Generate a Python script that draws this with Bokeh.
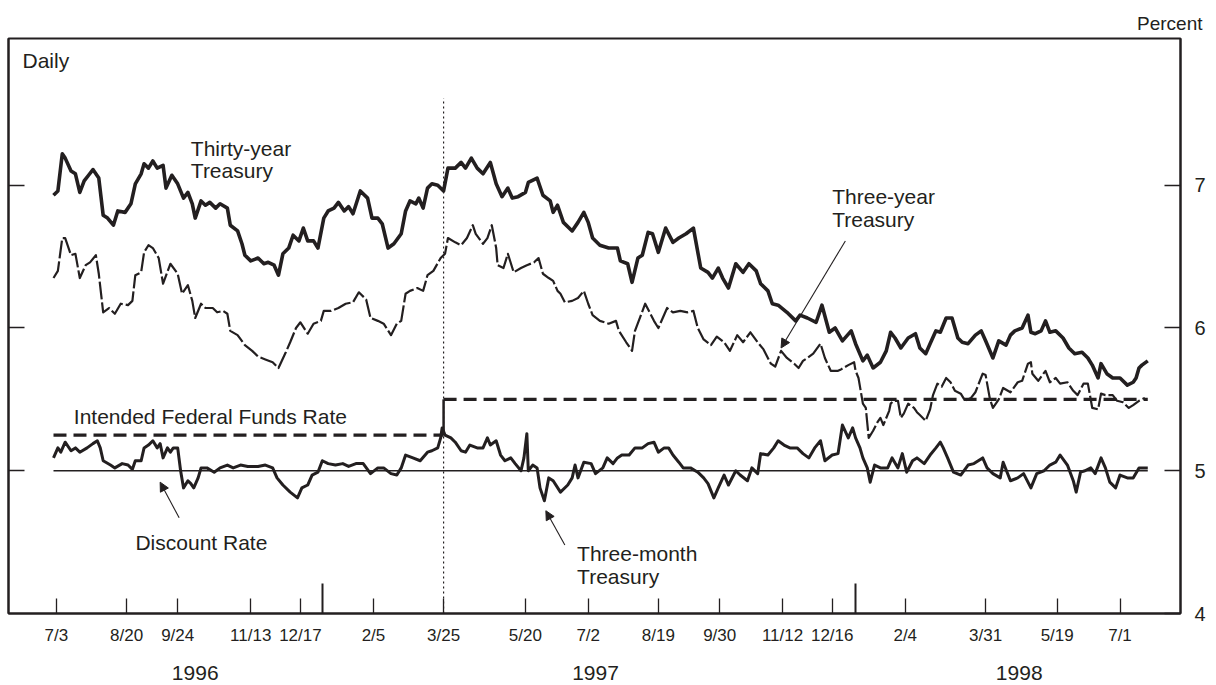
from datetime import date
from bokeh.plotting import figure
from bokeh.models import Range1d, LinearAxis, FixedTicker, Label, Arrow, NormalHead, Title
from bokeh.embed import file_html
from bokeh.resources import INLINE

# ---------------- data (x = days since 1 July 1996) ----------------
ORIGIN = date(1996, 7, 1)

def day(s):
    y, m, d = map(int, s.split("-"))
    return (date(y, m, d) - ORIGIN).days

tick_dates = ["1996-07-03", "1996-08-20", "1996-09-24", "1996-11-13", "1996-12-17",
              "1997-02-05", "1997-03-25", "1997-05-20", "1997-07-02", "1997-08-19",
              "1997-09-30", "1997-11-12", "1997-12-16", "1998-02-04", "1998-03-31",
              "1998-05-19", "1998-07-01"]
tick_labels = ["7/3", "8/20", "9/24", "11/13", "12/17", "2/5", "3/25", "5/20", "7/2",
               "8/19", "9/30", "11/12", "12/16", "2/4", "3/31", "5/19", "7/1"]
year_starts = ["1997-01-01", "1998-01-01"]
year_labels = ["1996", "1997", "1998"]
year_label_dates = ["1996-10-06", "1997-07-07", "1998-04-23"]

y_ticks = [4, 5, 6, 7]

# Thirty-year Treasury
t30_day = [0, 3, 6, 8, 12, 15, 18, 21, 24, 27, 31, 34, 37, 41, 44, 49, 53, 56, 60, 62,
           65, 68, 71, 75, 77, 81, 85, 89, 92, 95, 97, 101, 104, 107, 111, 114, 119, 121, 126, 129,
           131, 135, 140, 144, 147, 151, 154, 157, 161, 164, 168, 171, 174, 178, 181, 185, 188, 192, 195, 199,
           202, 205, 210, 215, 218, 222, 225, 229, 233, 238, 241, 244, 248, 250, 253, 256, 259, 263, 267, 270,
           275, 279, 282, 286, 290, 294, 299, 303, 307, 311, 314, 318, 323, 325, 331, 335, 340, 342, 345, 349,
           355, 359, 363, 366, 369, 374, 380, 386, 388, 393, 396, 400, 403, 407, 410, 414, 419, 424, 428, 433,
           438, 443, 448, 451, 455, 458, 462, 467, 472, 476, 481, 484, 489, 492, 496, 502, 508, 511, 516, 522,
           526, 531, 535, 540, 546, 549, 554, 557, 561, 566, 570, 573, 576, 580, 585, 590, 593, 597, 600, 604,
           607, 611, 615, 619, 622, 626, 631, 635, 638, 643, 647, 652, 655, 658, 663, 667, 669, 672, 676, 679,
           682, 686, 691, 695, 699, 704, 708, 711, 715, 717, 721, 725, 730, 735, 739, 741, 743, 745, 749]
t30_val = [6.93, 6.96, 7.22, 7.19, 7.10, 7.08, 6.95, 7.03, 7.07, 7.11, 7.05, 6.79, 6.77, 6.72, 6.82, 6.81, 6.87, 7.01, 7.08, 7.15,
           7.12, 7.17, 7.12, 7.14, 6.98, 7.07, 7.01, 6.91, 6.95, 6.87, 6.77, 6.89, 6.86, 6.88, 6.84, 6.87, 6.84, 6.72, 6.68, 6.59,
           6.51, 6.47, 6.49, 6.45, 6.46, 6.44, 6.37, 6.52, 6.56, 6.65, 6.61, 6.70, 6.61, 6.61, 6.56, 6.77, 6.82, 6.84, 6.88, 6.82,
           6.85, 6.80, 6.96, 6.91, 6.77, 6.77, 6.73, 6.56, 6.59, 6.66, 6.82, 6.89, 6.87, 6.91, 6.84, 6.98, 7.01, 7.00, 6.96, 7.12,
           7.12, 7.16, 7.12, 7.19, 7.12, 7.08, 7.16, 7.01, 6.92, 6.98, 6.91, 6.92, 6.95, 7.02, 7.05, 6.93, 6.89, 6.81, 6.86, 6.74,
           6.68, 6.74, 6.81, 6.74, 6.63, 6.58, 6.56, 6.56, 6.47, 6.45, 6.32, 6.49, 6.51, 6.67, 6.66, 6.53, 6.70, 6.60, 6.63, 6.66,
           6.70, 6.42, 6.39, 6.35, 6.42, 6.35, 6.28, 6.45, 6.39, 6.45, 6.40, 6.31, 6.26, 6.17, 6.16, 6.11, 6.05, 6.09, 6.07, 6.04,
           6.16, 5.97, 6.00, 5.91, 5.98, 5.89, 5.77, 5.81, 5.72, 5.76, 5.84, 5.97, 5.93, 5.86, 5.93, 5.96, 5.86, 5.82, 5.89, 5.98,
           5.97, 6.07, 6.07, 5.93, 5.90, 5.89, 5.95, 5.98, 5.91, 5.79, 5.91, 5.88, 5.95, 5.98, 6.00, 6.09, 5.97, 5.96, 5.98, 6.05,
           5.97, 5.98, 5.93, 5.86, 5.82, 5.83, 5.79, 5.74, 5.65, 5.75, 5.68, 5.65, 5.65, 5.60, 5.62, 5.65, 5.72, 5.74, 5.77]

# Three-year Treasury
t3y_day = [0, 3, 6, 8, 12, 15, 18, 22, 25, 29, 31, 34, 38, 42, 46, 51, 54, 56, 60, 62,
           65, 68, 72, 75, 80, 85, 88, 92, 95, 97, 101, 104, 109, 112, 116, 119, 121, 126, 131, 136,
           140, 145, 150, 154, 159, 162, 166, 169, 174, 178, 183, 185, 190, 195, 200, 205, 209, 214, 217, 222,
           226, 231, 235, 238, 241, 244, 249, 253, 256, 260, 265, 268, 270, 275, 279, 283, 287, 289, 294, 297,
           300, 303, 304, 308, 311, 315, 320, 324, 329, 332, 335, 339, 342, 345, 347, 350, 355, 359, 363, 366,
           369, 374, 380, 385, 387, 392, 396, 398, 405, 411, 414, 420, 424, 429, 434, 438, 441, 445, 450, 454,
           459, 463, 468, 472, 477, 482, 486, 491, 494, 498, 502, 507, 510, 513, 516, 520, 525, 528, 532, 537,
           539, 544, 548, 549, 551, 554, 556, 558, 561, 564, 566, 568, 572, 573, 575, 578, 580, 582, 585, 589,
           591, 593, 597, 600, 602, 605, 608, 611, 614, 617, 621, 624, 628, 631, 636, 638, 641, 643, 647, 650,
           655, 660, 663, 667, 669, 670, 674, 679, 682, 686, 689, 694, 698, 701, 705, 708, 711, 715, 717, 720,
           725, 728, 732, 736, 739, 743, 747]
t3y_val = [6.35, 6.40, 6.63, 6.63, 6.51, 6.52, 6.35, 6.44, 6.46, 6.51, 6.38, 6.11, 6.14, 6.10, 6.17, 6.16, 6.19, 6.37, 6.39, 6.53,
           6.58, 6.56, 6.49, 6.31, 6.45, 6.38, 6.24, 6.30, 6.19, 6.07, 6.17, 6.14, 6.14, 6.11, 6.12, 6.10, 5.98, 5.95, 5.88, 5.84,
           5.80, 5.78, 5.76, 5.72, 5.83, 5.90, 6.00, 6.04, 5.96, 6.03, 6.05, 6.12, 6.12, 6.14, 6.17, 6.18, 6.25, 6.20, 6.07, 6.05,
           6.03, 5.95, 6.03, 6.05, 6.24, 6.26, 6.28, 6.26, 6.37, 6.40, 6.49, 6.52, 6.63, 6.60, 6.58, 6.63, 6.72, 6.66, 6.59, 6.63,
           6.72, 6.56, 6.44, 6.42, 6.52, 6.39, 6.42, 6.44, 6.46, 6.49, 6.38, 6.35, 6.33, 6.26, 6.24, 6.18, 6.19, 6.21, 6.26, 6.17,
           6.09, 6.05, 6.03, 6.05, 5.98, 5.90, 5.84, 5.98, 6.17, 6.05, 6.00, 6.14, 6.11, 6.12, 6.11, 6.12, 6.00, 5.92, 5.88, 5.94,
           5.90, 5.84, 5.95, 5.90, 5.97, 5.90, 5.85, 5.75, 5.73, 5.84, 5.79, 5.75, 5.72, 5.77, 5.79, 5.82, 5.89, 5.79, 5.70, 5.70,
           5.71, 5.74, 5.76, 5.70, 5.65, 5.47, 5.44, 5.23, 5.28, 5.34, 5.37, 5.32, 5.42, 5.47, 5.49, 5.49, 5.37, 5.40, 5.47, 5.44,
           5.41, 5.39, 5.35, 5.43, 5.53, 5.61, 5.59, 5.65, 5.62, 5.56, 5.54, 5.49, 5.51, 5.55, 5.68, 5.67, 5.50, 5.44, 5.50, 5.58,
           5.55, 5.62, 5.63, 5.75, 5.76, 5.68, 5.63, 5.70, 5.62, 5.65, 5.61, 5.62, 5.56, 5.53, 5.61, 5.61, 5.44, 5.43, 5.54, 5.53,
           5.53, 5.49, 5.48, 5.44, 5.46, 5.49, 5.51]

# Three-month Treasury
t3m_day = [0, 3, 5, 8, 12, 15, 18, 23, 27, 30, 32, 34, 39, 42, 47, 51, 54, 56, 60, 62,
           65, 68, 71, 73, 75, 78, 80, 82, 85, 87, 89, 92, 94, 96, 99, 101, 105, 110, 114, 119,
           123, 128, 133, 140, 145, 150, 153, 157, 162, 167, 170, 174, 177, 181, 184, 188, 193, 198, 202, 207,
           212, 217, 222, 226, 231, 235, 238, 241, 246, 251, 256, 259, 263, 265, 266, 268, 272, 275, 279, 282,
           285, 290, 294, 297, 299, 303, 306, 309, 313, 316, 320, 322, 324, 325, 328, 331, 333, 336, 339, 342,
           347, 352, 355, 357, 359, 363, 368, 371, 376, 379, 383, 386, 389, 394, 398, 403, 407, 411, 414, 418,
           421, 424, 428, 431, 436, 441, 445, 448, 452, 455, 459, 462, 467, 470, 475, 478, 482, 484, 489, 493,
           496, 500, 504, 509, 513, 517, 521, 525, 528, 533, 537, 540, 544, 547, 549, 552, 554, 557, 559, 562,
           566, 571, 574, 578, 581, 584, 588, 591, 596, 600, 604, 607, 609, 612, 616, 621, 626, 630, 636, 639,
           643, 648, 650, 655, 660, 664, 669, 673, 678, 682, 686, 689, 694, 698, 700, 703, 706, 710, 713, 717,
           720, 723, 727, 730, 735, 739, 743, 746, 749]
t3m_val = [5.09, 5.16, 5.13, 5.20, 5.14, 5.16, 5.13, 5.16, 5.19, 5.21, 5.16, 5.07, 5.04, 5.02, 5.05, 5.04, 5.01, 5.07, 5.07, 5.16,
           5.18, 5.21, 5.16, 5.19, 5.09, 5.16, 5.13, 5.16, 5.16, 5.00, 4.88, 4.93, 4.91, 4.88, 4.95, 5.02, 5.02, 4.99, 5.02, 5.04,
           5.02, 5.04, 5.03, 5.03, 5.04, 5.02, 4.95, 4.90, 4.85, 4.81, 4.88, 4.90, 4.97, 4.99, 5.07, 5.05, 5.04, 5.05, 5.03, 5.05,
           5.05, 4.98, 5.02, 5.02, 4.98, 4.97, 5.02, 5.11, 5.09, 5.07, 5.13, 5.14, 5.16, 5.23, 5.30, 5.25, 5.23, 5.20, 5.14, 5.13,
           5.18, 5.16, 5.16, 5.23, 5.18, 5.21, 5.11, 5.07, 5.09, 5.05, 5.00, 5.09, 5.26, 5.00, 5.04, 5.02, 4.88, 4.79, 4.95, 4.93,
           4.85, 4.90, 4.95, 5.04, 4.95, 5.06, 5.05, 4.98, 5.02, 5.09, 5.05, 5.09, 5.11, 5.11, 5.16, 5.16, 5.19, 5.20, 5.13, 5.16,
           5.16, 5.11, 5.06, 5.02, 5.02, 4.99, 4.95, 4.91, 4.81, 4.88, 4.97, 4.90, 5.00, 4.97, 4.93, 5.02, 4.98, 5.12, 5.11, 5.16,
           5.21, 5.18, 5.16, 5.16, 5.12, 5.09, 5.16, 5.21, 5.07, 5.11, 5.12, 5.32, 5.23, 5.30, 5.23, 5.16, 5.09, 5.02, 4.92, 5.04,
           5.02, 5.02, 5.09, 5.02, 5.12, 4.99, 5.07, 5.09, 5.05, 5.11, 5.16, 5.20, 5.16, 5.09, 4.99, 4.97, 5.04, 5.05, 5.09, 5.02,
           4.98, 4.95, 5.06, 4.93, 4.95, 4.98, 4.88, 4.98, 5.00, 5.04, 5.06, 5.11, 5.04, 4.93, 4.85, 4.99, 5.00, 5.02, 4.98, 5.09,
           5.02, 4.92, 4.88, 4.97, 4.95, 4.95, 5.02, 5.02, 5.02]

# Policy rates (step changes)
fed_dates = ["1996-07-01", "1997-03-25"]
fed_vals = [5.25, 5.50]
disc_dates = ["1996-07-01"]
disc_vals = [5.00]
series_end = "1998-07-20"

# ---------------- styling ----------------
INK = "#231f20"
FONT = "Liberation Sans"

p = figure(width=1216, height=685, x_range=Range1d(-30.8, 771.4), y_range=Range1d(4.0, 8.028),
           output_backend="svg", toolbar_location=None,
           x_axis_location=None, y_axis_location=None,
           min_border_left=8, min_border_right=36, min_border_top=38, min_border_bottom=72)
p.xgrid.grid_line_color = None
p.ygrid.grid_line_color = None
p.outline_line_color = INK
p.outline_line_width = 2
p.background_fill_color = "white"
p.border_fill_color = "white"

# "Percent" unit note above the right axis
p.add_layout(Title(text="Percent", align="right", offset=-22, standoff=9,
                   text_font=FONT, text_font_size="19px", text_font_style="normal",
                   text_color=INK), "above")

# axes
tick_days = [day(d) for d in tick_dates]
xaxis = LinearAxis(ticker=FixedTicker(ticks=tick_days, minor_ticks=[day(d) for d in year_starts]),
                   major_label_overrides={d: l for d, l in zip(tick_days, tick_labels)},
                   major_tick_in=15, major_tick_out=0, minor_tick_in=30, minor_tick_out=0,
                   major_tick_line_color=INK, minor_tick_line_color=INK,
                   major_tick_line_width=1.3, minor_tick_line_width=2,
                   axis_line_color=INK, axis_line_width=2,
                   major_label_standoff=12, major_label_text_font=FONT,
                   major_label_text_font_size="17px", major_label_text_color=INK)
p.add_layout(xaxis, "below")

yl_days = [day(d) for d in year_label_dates]
yearaxis = LinearAxis(ticker=FixedTicker(ticks=yl_days),
                      major_label_overrides={d: l for d, l in zip(yl_days, year_labels)},
                      axis_line_color=None, major_tick_line_color=None, minor_tick_line_color=None,
                      major_tick_in=0, major_tick_out=0,
                      major_label_standoff=18, major_label_text_font=FONT,
                      major_label_text_font_size="21px", major_label_text_color=INK)
p.add_layout(yearaxis, "below")

raxis = LinearAxis(ticker=FixedTicker(ticks=y_ticks),
                   major_tick_in=16, major_tick_out=0, major_tick_line_color=INK, major_tick_line_width=1.3,
                   axis_line_color=INK, axis_line_width=2,
                   major_label_standoff=14, major_label_text_font=FONT,
                   major_label_text_font_size="20px", major_label_text_color=INK)
p.add_layout(raxis, "right")

laxis = LinearAxis(ticker=FixedTicker(ticks=y_ticks[1:]),
                   major_tick_in=16, major_tick_out=0, major_tick_line_color=INK, major_tick_line_width=1.3,
                   axis_line_color=INK, axis_line_width=2,
                   major_label_standoff=0, major_label_text_font_size="1px",
                   major_label_text_color=None)
p.add_layout(laxis, "left")

# policy lines
end_day = day(series_end)
disc_x = [day(d) for d in disc_dates] + [end_day]
p.line(disc_x, disc_vals + disc_vals[-1:], line_color=INK, line_width=1.4)

fed_x = [day(d) for d in fed_dates] + [end_day]
for i, v in enumerate(fed_vals):
    p.line([fed_x[i], fed_x[i + 1]], [v, v], line_color=INK, line_width=3.2, line_dash="13 7")
    if i > 0:
        p.line([fed_x[i], fed_x[i]], [fed_vals[i - 1], v], line_color=INK, line_width=2.5)

# vertical dotted marker at the rate change
marker_top = 7.61
chg = fed_x[1]
p.line([chg, chg], [4.0, marker_top], line_color=INK, line_width=1.2, line_dash="2 3")

# series
p.line(t3y_day, t3y_val, line_color=INK, line_width=2.2, line_dash="18 3", line_join="round")
p.line(t3m_day, t3m_val, line_color=INK, line_width=3.0, line_join="round")
p.line(t30_day, t30_val, line_color=INK, line_width=3.6, line_join="round")

# annotations
def lab(text, x, y, size="21px", align="left", baseline="alphabetic"):
    p.add_layout(Label(x=x, y=y, text=text, text_font=FONT, text_font_size=size,
                       text_color=INK, text_align=align, text_baseline=baseline))

lab("Daily", -21.2, 7.874, baseline="middle")
lab("Thirty-year", 94, 7.257)
lab("Treasury", 94, 7.103)
lab("Three-year", 533, 6.924)
lab("Treasury", 533, 6.760)
lab("Intended Federal Funds Rate", 13.9, 5.380)
lab("Discount Rate", 56.1, 4.500)
lab("Three-month", 358.4, 4.423)
lab("Treasury", 358.4, 4.259)

def arrow(x0, y0, x1, y1):
    p.add_layout(Arrow(end=NormalHead(size=9, fill_color=INK, line_color=INK, line_width=1),
                       x_start=x0, y_start=y0, x_end=x1, y_end=y1,
                       line_color=INK, line_width=1.1))

arrow(542, 6.61, 498, 5.86)
arrow(86, 4.67, 73, 4.92)
arrow(350, 4.48, 337, 4.72)

open("out.html", "w").write(file_html(p, INLINE))
